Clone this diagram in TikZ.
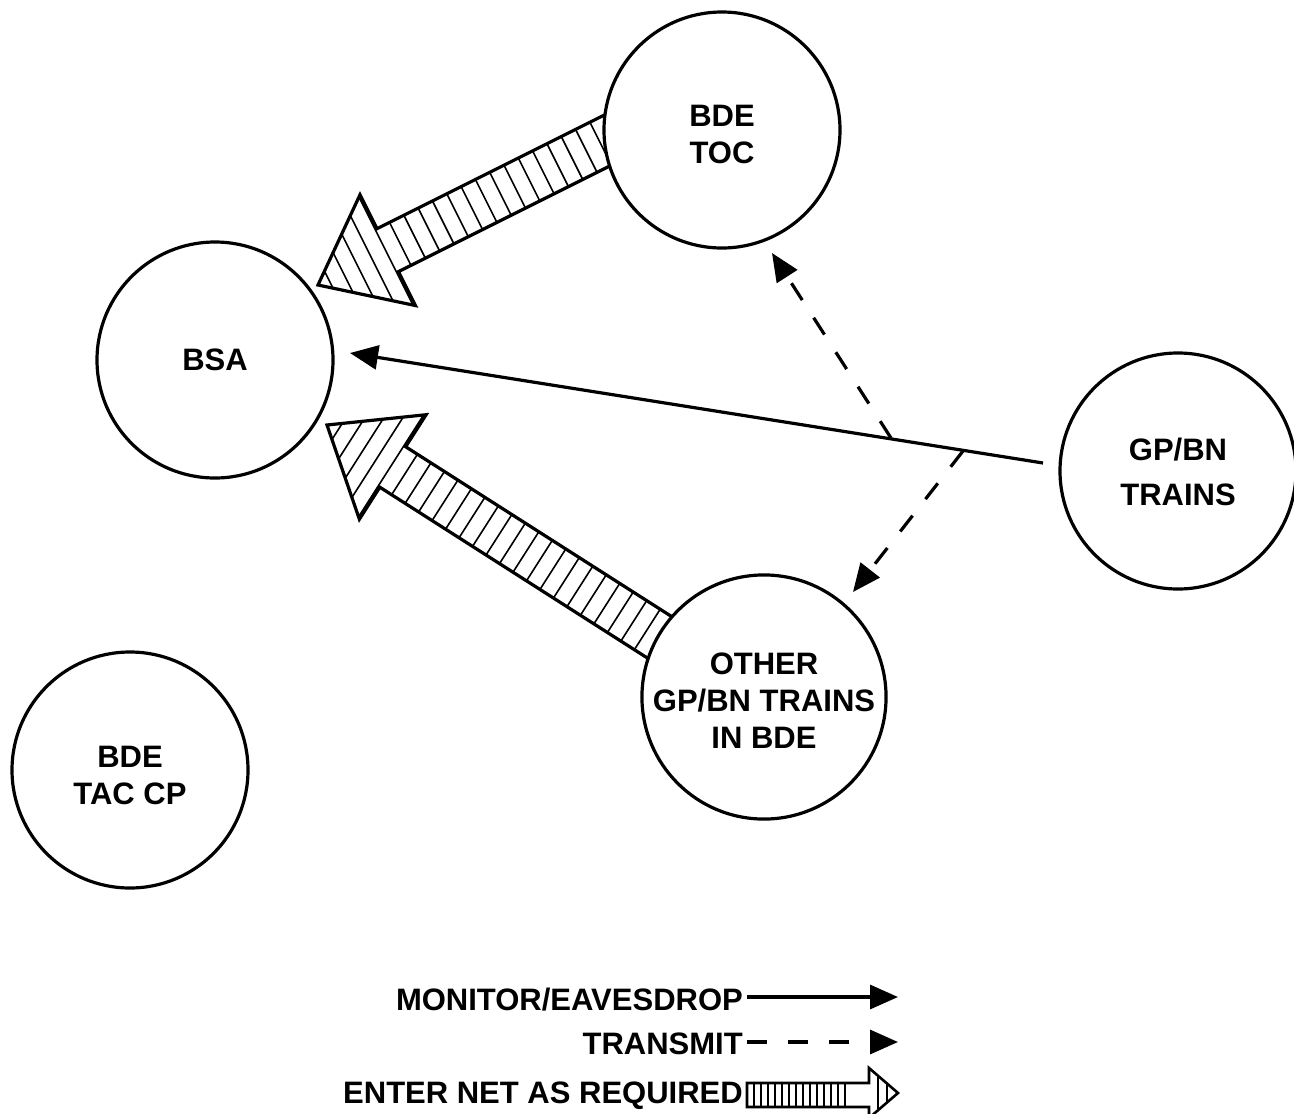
\documentclass[tikz,border=0pt]{standalone}
\usepackage{fontspec}
\setmainfont{Liberation Sans}
\usetikzlibrary{arrows.meta,calc,backgrounds}

\newcommand\netarrow[2]{% #1 tip coordinate, #2 tail coordinate
  \coordinate (hb) at ($(#1)!78pt!(#2)$);
  \coordinate (pa) at ($(hb)!62pt!90:(#2)$);
  \coordinate (pb) at ($(hb)!24pt!90:(#2)$);
  \coordinate (pc) at ($(#2)!24pt!-90:(#1)$);
  \coordinate (pd) at ($(#2)!24pt!90:(#1)$);
  \coordinate (pe) at ($(hb)!24pt!-90:(#2)$);
  \coordinate (pf) at ($(hb)!62pt!-90:(#2)$);
  \fill[white] (#1) -- (pa) -- (pb) -- (pc) -- (pd) -- (pe) -- (pf) -- cycle;
  \begin{scope}
    \clip (#1) -- (pa) -- (pb) -- (pc) -- (pd) -- (pe) -- (pf) -- cycle;
    \foreach \d in {12,28,...,460}{
      \coordinate (hp) at ($(#1)!\d pt!(#2)$);
      \draw[hatchln] ($(hp)!70pt!90:(#2)$) -- ($(hp)!70pt!-90:(#2)$);
    }
  \end{scope}
  \draw[bigout] (#1) -- (pa) -- (pb) -- (pc) -- (pd) -- (pe) -- (pf) -- cycle;
}
\newcommand\topstrutx[1]{\rule{0pt}{#1}}

\begin{document}
\begin{tikzpicture}[x=1pt,y=-1pt,
  txt/.style={font=\bfseries\fontsize{31}{37}\selectfont},
  stn/.style={txt,circle,draw,line width=3.2pt,fill=white,minimum size=236pt,inner sep=0pt,align=center},
  lbl/.style={txt,inner sep=0pt},
  monline/.style={line width=3.2pt,-{Triangle[length=28pt,width=24pt]}},
  txline/.style={monline,dash pattern=on 20pt off 21pt},
  bigout/.style={line width=3.2pt,line join=miter},
  hatchln/.style={line width=1.6pt}]

\useasboundingbox (0,0) rectangle (1294,1114);

% stations
\node[stn] (toc) at (722,130) {\topstrutx{31pt}BDE\\TOC};
\node[stn] (bsa) at (215,360) {BSA};
\node[stn] (gp) at (1178,471) {\topstrutx{25pt}GP/BN\\[8pt]TRAINS};
\node[stn] (oth) at (764,697) {\topstrutx{28pt}OTHER\\GP/BN TRAINS\\IN BDE};
\node[stn] (tac) at (130,770) {\topstrutx{32pt}BDE\\TAC CP};

% connector end points
\coordinate (mS) at (1043,463);
\coordinate (mT) at (350,353);
\coordinate (j1) at (891,438);
\coordinate (j2) at (963,451);
\coordinate (tocTip) at (772,253);
\coordinate (othTip) at (853,592);
\coordinate (t1) at (318,285);
\coordinate (s1) at (640,124);
\coordinate (t2) at (327,425);
\coordinate (s2) at (681,651);

\begin{scope}[on background layer]
  \fill[white] (0,0) rectangle (1294,1114);
  \netarrow{t1}{s1}
  \netarrow{t2}{s2}
\end{scope}

\draw[monline] (mS) -- (mT);
\draw[txline] (j1) -- (tocTip);
\draw[txline] (j2) -- (othTip);

% legend
\node[lbl,anchor=base east] (lmon) at (743,1010) {MONITOR/EAVESDROP};
\node[lbl,anchor=base east] (ltx) at (743,1054) {TRANSMIT};
\node[lbl,anchor=base east] (lnet) at (743,1103) {ENTER NET AS REQUIRED};

\coordinate (lm1) at (747,997);
\coordinate (lm2) at (898,997);
\coordinate (lt1) at (747,1042);
\coordinate (lt2) at (898,1042);
\draw[monline] (lm1) -- (lm2);
\draw[txline] (lt1) -- (lt2);

\draw[line width=2.6pt,line join=miter] (747,1083) -- (869,1083) -- (869,1068) -- (898,1093) -- (869,1118) -- (869,1107) -- (747,1107) -- cycle;
\foreach \x in {754,761,...,847}{
  \draw[hatchln] (\x,1083) -- (\x,1107);
}
\draw[hatchln] (878,1076) -- (878,1110);
\draw[hatchln] (887,1084) -- (887,1102);

\end{tikzpicture}
\end{document}
